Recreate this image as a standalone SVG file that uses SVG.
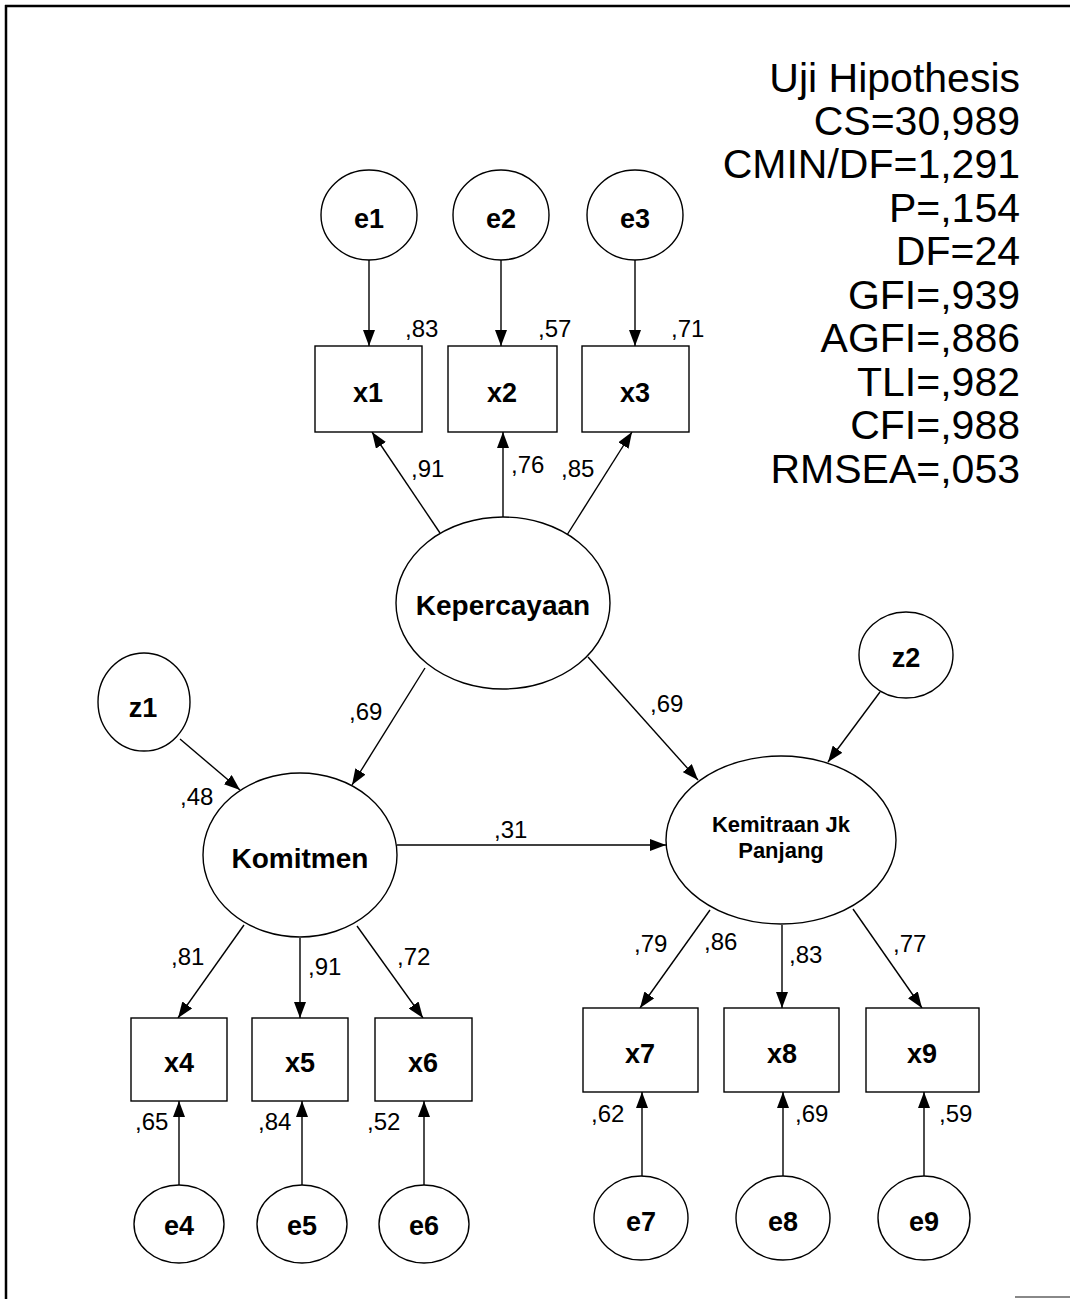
<svg xmlns="http://www.w3.org/2000/svg" width="1070" height="1299" viewBox="0 0 1070 1299">
<style>
  .shape { fill: #ffffff; stroke: #000000; stroke-width: 1.4; }
  .conn { stroke: #000000; stroke-width: 1.4; fill: none; marker-end: url(#arrow); }
  .nl { font-family: "Liberation Sans", Arial, sans-serif; font-weight: bold; font-size: 27px; text-anchor: middle; fill: #000; }
  .big { font-family: "Liberation Sans", Arial, sans-serif; font-weight: bold; font-size: 28px; text-anchor: middle; fill: #000; }
  .mid { font-family: "Liberation Sans", Arial, sans-serif; font-weight: bold; font-size: 22px; text-anchor: middle; fill: #000; }
  .lbl { font-family: "Liberation Sans", Arial, sans-serif; font-size: 24px; fill: #000; }
  .stat { font-family: "Liberation Sans", Arial, sans-serif; font-size: 41px; text-anchor: end; fill: #000; }
</style>
<defs>
  <marker id="arrow" viewBox="0 0 16 12" refX="16" refY="6" markerWidth="16" markerHeight="12" markerUnits="userSpaceOnUse" orient="auto">
    <path d="M0,0 L16,6 L0,12 Z" fill="#000"/>
  </marker>
</defs>
<rect x="0" y="0" width="1070" height="1299" fill="#ffffff"/>
<!-- frame -->
<line x1="5" y1="6" x2="1070" y2="6" stroke="#000" stroke-width="2.5"/>
<line x1="6" y1="5" x2="6" y2="1299" stroke="#000" stroke-width="2.5"/>
<line x1="1015" y1="1297" x2="1070" y2="1297" stroke="#888" stroke-width="2"/>

<!-- fit statistics -->
<g id="stats">
  <text class="stat" x="1020" y="92">Uji Hipothesis</text>
  <text class="stat" x="1020" y="135">CS=30,989</text>
  <text class="stat" x="1020" y="178">CMIN/DF=1,291</text>
  <text class="stat" x="1020" y="222">P=,154</text>
  <text class="stat" x="1020" y="265">DF=24</text>
  <text class="stat" x="1020" y="309">GFI=,939</text>
  <text class="stat" x="1020" y="352">AGFI=,886</text>
  <text class="stat" x="1020" y="396">TLI=,982</text>
  <text class="stat" x="1020" y="439">CFI=,988</text>
  <text class="stat" x="1020" y="483">RMSEA=,053</text>
</g>

<!-- connectors -->
<g id="connectors">
  <line class="conn" x1="369" y1="260" x2="369" y2="346"/>
  <line class="conn" x1="501" y1="260" x2="501" y2="346"/>
  <line class="conn" x1="635" y1="260" x2="635" y2="346"/>
  <line class="conn" x1="440" y1="533" x2="372" y2="432"/>
  <line class="conn" x1="503" y1="517" x2="503" y2="432"/>
  <line class="conn" x1="567" y1="535" x2="632" y2="432"/>
  <line class="conn" x1="425" y1="668" x2="352" y2="785"/>
  <line class="conn" x1="588" y1="657" x2="698" y2="780"/>
  <line class="conn" x1="180" y1="739" x2="240" y2="790"/>
  <line class="conn" x1="880" y1="692" x2="828" y2="762"/>
  <line class="conn" x1="397" y1="845" x2="666" y2="845"/>
  <line class="conn" x1="244" y1="925" x2="178" y2="1018"/>
  <line class="conn" x1="300" y1="938" x2="300" y2="1018"/>
  <line class="conn" x1="357" y1="926" x2="423" y2="1018"/>
  <line class="conn" x1="179" y1="1185" x2="179" y2="1101"/>
  <line class="conn" x1="302" y1="1185" x2="302" y2="1101"/>
  <line class="conn" x1="424" y1="1185" x2="424" y2="1101"/>
  <line class="conn" x1="710" y1="910" x2="640" y2="1008"/>
  <line class="conn" x1="782" y1="925" x2="782" y2="1008"/>
  <line class="conn" x1="853" y1="909" x2="922" y2="1008"/>
  <line class="conn" x1="642" y1="1176" x2="642" y2="1092"/>
  <line class="conn" x1="783" y1="1176" x2="783" y2="1092"/>
  <line class="conn" x1="924" y1="1176" x2="924" y2="1092"/>
</g>

<!-- path labels -->
<g id="labels">
  <text class="lbl" x="405" y="337">,83</text>
  <text class="lbl" x="538" y="337">,57</text>
  <text class="lbl" x="671" y="337">,71</text>
  <text class="lbl" x="411" y="477">,91</text>
  <text class="lbl" x="511" y="473">,76</text>
  <text class="lbl" x="561" y="477">,85</text>
  <text class="lbl" x="349" y="720">,69</text>
  <text class="lbl" x="650" y="712">,69</text>
  <text class="lbl" x="180" y="805">,48</text>
  <text class="lbl" x="494" y="838">,31</text>
  <text class="lbl" x="171" y="965">,81</text>
  <text class="lbl" x="308" y="975">,91</text>
  <text class="lbl" x="397" y="965">,72</text>
  <text class="lbl" x="135" y="1130">,65</text>
  <text class="lbl" x="258" y="1130">,84</text>
  <text class="lbl" x="367" y="1130">,52</text>
  <text class="lbl" x="634" y="952">,79</text>
  <text class="lbl" x="704" y="950">,86</text>
  <text class="lbl" x="789" y="963">,83</text>
  <text class="lbl" x="893" y="952">,77</text>
  <text class="lbl" x="591" y="1122">,62</text>
  <text class="lbl" x="795" y="1122">,69</text>
  <text class="lbl" x="939" y="1122">,59</text>
</g>

<!-- error terms top -->
<g id="e1"><ellipse class="shape" cx="369" cy="215" rx="48" ry="45"/><text class="nl" x="369" y="228">e1</text></g>
<g id="e2"><ellipse class="shape" cx="501" cy="215" rx="48" ry="45"/><text class="nl" x="501" y="228">e2</text></g>
<g id="e3"><ellipse class="shape" cx="635" cy="215" rx="48" ry="45"/><text class="nl" x="635" y="228">e3</text></g>

<!-- indicators top -->
<g id="x1"><rect class="shape" x="315" y="346" width="107" height="86"/><text class="nl" x="368" y="402">x1</text></g>
<g id="x2"><rect class="shape" x="448" y="346" width="109" height="86"/><text class="nl" x="502" y="402">x2</text></g>
<g id="x3"><rect class="shape" x="582" y="346" width="107" height="86"/><text class="nl" x="635" y="402">x3</text></g>

<!-- latent -->
<g id="kepercayaan"><ellipse class="shape" cx="503" cy="603" rx="107" ry="86"/><text class="big" x="503" y="615">Kepercayaan</text></g>
<g id="komitmen"><ellipse class="shape" cx="300" cy="855" rx="97" ry="82"/><text class="big" x="300" y="868">Komitmen</text></g>
<g id="kemitraan"><ellipse class="shape" cx="781" cy="840" rx="115" ry="84"/><text class="mid" x="781" y="832">Kemitraan Jk</text><text class="mid" x="781" y="858">Panjang</text></g>

<!-- disturbances -->
<g id="z1"><ellipse class="shape" cx="144" cy="702" rx="46" ry="49"/><text class="nl" x="143" y="717">z1</text></g>
<g id="z2"><ellipse class="shape" cx="906" cy="655" rx="47" ry="43"/><text class="nl" x="906" y="667">z2</text></g>

<!-- indicators bottom -->
<g id="x4"><rect class="shape" x="131" y="1018" width="96" height="83"/><text class="nl" x="179" y="1072">x4</text></g>
<g id="x5"><rect class="shape" x="252" y="1018" width="96" height="83"/><text class="nl" x="300" y="1072">x5</text></g>
<g id="x6"><rect class="shape" x="375" y="1018" width="97" height="83"/><text class="nl" x="423" y="1072">x6</text></g>
<g id="x7"><rect class="shape" x="583" y="1008" width="115" height="84"/><text class="nl" x="640" y="1063">x7</text></g>
<g id="x8"><rect class="shape" x="724" y="1008" width="115" height="84"/><text class="nl" x="782" y="1063">x8</text></g>
<g id="x9"><rect class="shape" x="866" y="1008" width="113" height="84"/><text class="nl" x="922" y="1063">x9</text></g>

<!-- error terms bottom -->
<g id="e4"><ellipse class="shape" cx="179" cy="1224" rx="45" ry="39"/><text class="nl" x="179" y="1235">e4</text></g>
<g id="e5"><ellipse class="shape" cx="302" cy="1224" rx="45" ry="39"/><text class="nl" x="302" y="1235">e5</text></g>
<g id="e6"><ellipse class="shape" cx="424" cy="1224" rx="45" ry="39"/><text class="nl" x="424" y="1235">e6</text></g>
<g id="e7"><ellipse class="shape" cx="641" cy="1218" rx="47" ry="42"/><text class="nl" x="641" y="1231">e7</text></g>
<g id="e8"><ellipse class="shape" cx="783" cy="1218" rx="47" ry="42"/><text class="nl" x="783" y="1231">e8</text></g>
<g id="e9"><ellipse class="shape" cx="924" cy="1218" rx="46" ry="42"/><text class="nl" x="924" y="1231">e9</text></g>
</svg>
